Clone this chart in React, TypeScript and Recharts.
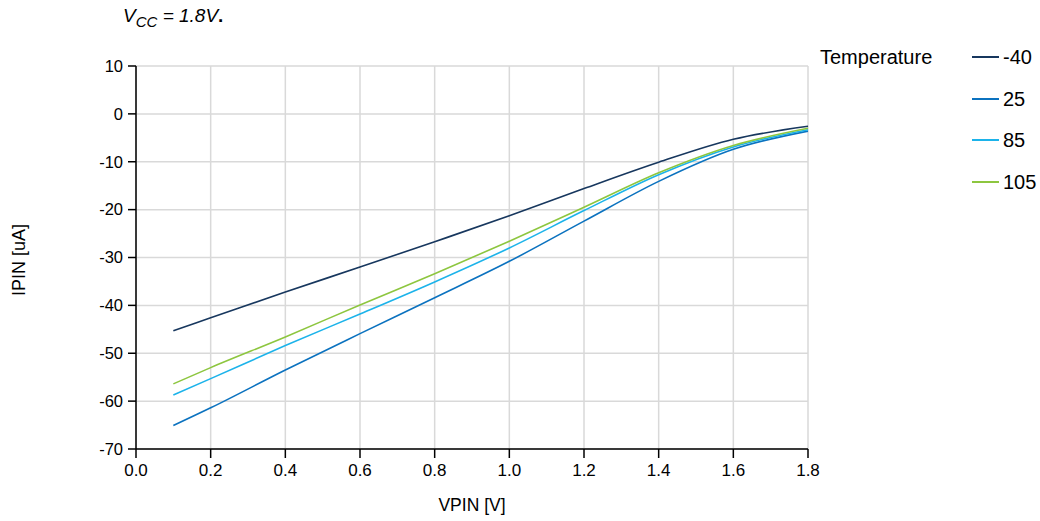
import { LineChart, Line, XAxis, YAxis, CartesianGrid } from 'recharts';

// VPIN [V]
const vpin = [0.1, 0.2, 0.4, 0.6, 0.8, 1.0, 1.2, 1.4, 1.6, 1.8];

// IPIN [uA] per temperature
const tempMinus40 = [-45.3, -42.6, -37.2, -32.0, -26.7, -21.3, -15.6, -10.1, -5.3, -2.6];
const temp25 = [-65.1, -61.4, -53.5, -45.9, -38.4, -30.8, -22.4, -14.1, -7.4, -3.6];
const temp85 = [-58.7, -55.3, -48.4, -41.8, -35.1, -28.0, -20.2, -12.7, -6.9, -3.3];
const temp105 = [-56.4, -53.0, -46.6, -39.9, -33.4, -26.6, -19.5, -12.3, -6.6, -3.0];

const xTicks = [0, 0.2, 0.4, 0.6, 0.8, 1.0, 1.2, 1.4, 1.6, 1.8];
const yTicks = [-70, -60, -50, -40, -30, -20, -10, 0, 10];

const series = [
  { key: 't1', name: '-40', color: '#17375e', values: tempMinus40 },
  { key: 't2', name: '25', color: '#0b72bf', values: temp25 },
  { key: 't3', name: '85', color: '#1cb3ea', values: temp85 },
  { key: 't4', name: '105', color: '#8dc63f', values: temp105 },
];

const data = vpin.map((v, i) => {
  const row: Record<string, number> = { v };
  series.forEach((s) => {
    row[s.key] = s.values[i];
  });
  return row;
});

const FONT = '"Liberation Sans", Arial, sans-serif';

// 凡例（タイトル＋縦並び）
const TempLegend = () => (
  <div style={{ position: 'absolute', left: 820, top: 45, width: 220, height: 170, fontFamily: FONT, color: '#000' }}>
    <div style={{ position: 'absolute', left: 0, top: 0, fontSize: 20, lineHeight: '24px' }}>Temperature</div>
    {series.map((s, i) => (
      <div
        key={s.key}
        style={{ position: 'absolute', left: 152, top: i * 41.7, height: 24, display: 'flex', alignItems: 'center' }}
      >
        <div style={{ width: 27, height: 2, background: s.color }} />
        <span style={{ marginLeft: 4, fontSize: 20, lineHeight: '24px' }}>{s.name}</span>
      </div>
    ))}
  </div>
);

export default function App() {
  return (
    <div style={{ position: 'absolute', left: 0, top: 0, width: 1040, height: 521, background: '#fff', fontFamily: FONT }}>
      <div
        style={{ position: 'absolute', left: 123, top: 4, fontSize: 19, fontStyle: 'italic', lineHeight: '24px', color: '#000' }}
      >
        V<sub style={{ fontSize: 15, verticalAlign: '-5px' }}>CC</sub> = 1.8V<span style={{ fontWeight: 'bold', fontStyle: 'normal' }}>.</span>
      </div>
      <LineChart
        width={1040}
        height={521}
        data={data}
        margin={{ top: 66, right: 232, bottom: 0, left: 0 }}
        style={{ fontFamily: FONT }}
      >
        <CartesianGrid stroke="#d9d9d9" strokeWidth={1.5} />
        <XAxis
          type="number"
          dataKey="v"
          domain={[0, 1.8]}
          ticks={xTicks}
          tickFormatter={(t: number) => t.toFixed(1)}
          height={72}
          tickSize={9}
          tickMargin={6}
          stroke="#000"
          tick={{ fill: '#000', fontSize: 17 }}
          axisLine={{ stroke: '#000', strokeWidth: 1.5 }}
          tickLine={{ stroke: '#000', strokeWidth: 1.5 }}
          label={{ value: 'VPIN [V]', position: 'insideBottom', offset: 10, fill: '#000', fontSize: 17.5 }}
        />
        <YAxis
          type="number"
          domain={[-70, 10]}
          ticks={yTicks}
          width={136}
          tickSize={8}
          tickMargin={5}
          stroke="#000"
          tick={{ fill: '#000', fontSize: 16.5 }}
          axisLine={{ stroke: '#000', strokeWidth: 1.5 }}
          tickLine={{ stroke: '#000', strokeWidth: 1.5 }}
          label={{
            content: () => (
              <text
                x={25}
                y={260}
                transform="rotate(-90 25 260)"
                textAnchor="middle"
                fill="#000"
                fontSize={18}
                fontFamily={FONT}
              >
                IPIN [uA]
              </text>
            ),
          }}
        />
        {series.map((s) => (
          <Line
            key={s.key}
            type="monotone"
            dataKey={s.key}
            name={s.name}
            stroke={s.color}
            strokeWidth={1.6}
            dot={false}
            isAnimationActive={false}
          />
        ))}
      </LineChart>
      <TempLegend />
    </div>
  );
}
